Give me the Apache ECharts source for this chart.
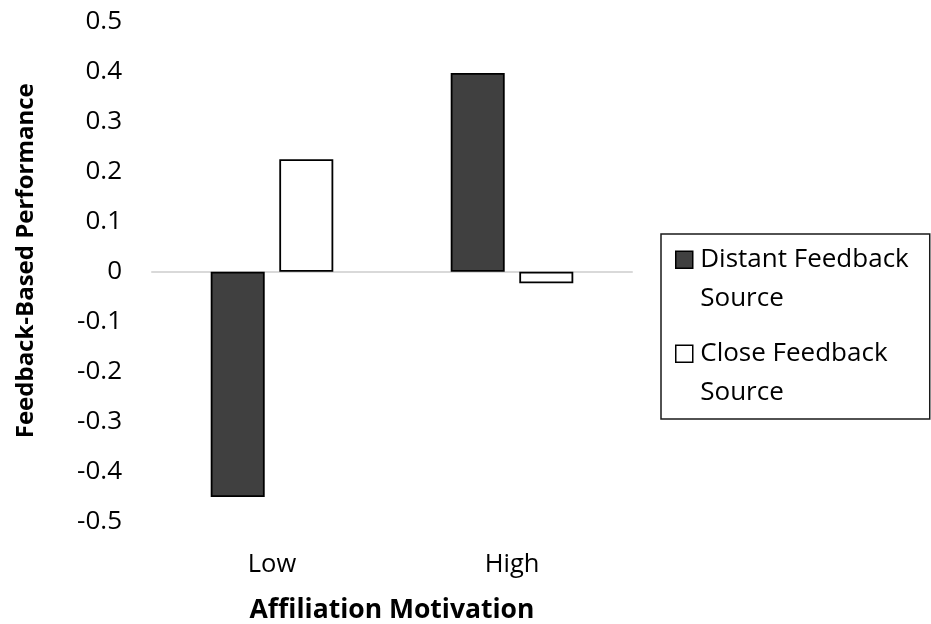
<!DOCTYPE html>
<html>
<head>
<meta charset="utf-8">
<title>Feedback-Based Performance by Affiliation Motivation</title>
<script src="https://cdn.jsdelivr.net/npm/echarts@6/dist/echarts.min.js"></script>
<style>
  html, body { margin: 0; padding: 0; background: #ffffff; }
  #chart { width: 931px; height: 624px; }
</style>
</head>
<body>
<div id="chart"></div>
<script>
// Group means per level of affiliation motivation
const categories = ['Low', 'High'];
const seriesNames = ['Distant Feedback Source', 'Close Feedback Source'];
const distantValues = [-0.45, 0.397];
const closeValues = [0.225, -0.023];
const yTicks = { min: -0.5, max: 0.5, step: 0.1 };

const FONT = '"Open Sans", "Noto Sans", sans-serif';
const INK = '#000000';

// Legend swatch: a 17px square drawn at the top of a taller box so the
// swatch lines up with the first line of the wrapped legend label.
const swatchIcon = 'path://M0,0H17V17H0Z M19.5,56';

const chart = echarts.init(document.getElementById('chart'), null, { renderer: 'canvas' });

chart.setOption({
  animation: false,
  backgroundColor: '#ffffff',
  grid: { left: 152, right: 299, top: 21.5, bottom: 102, outerBoundsMode: 'none', containLabel: false },
  xAxis: [
    {
      type: 'category',
      data: categories,
      position: 'bottom',
      axisLine: { show: false, onZero: false },
      axisTick: { show: false },
      axisLabel: { fontFamily: FONT, fontSize: 25.5, color: INK, margin: 30 },
      name: 'Affiliation Motivation',
      nameLocation: 'middle',
      nameGap: 75,
      nameTextStyle: { fontFamily: FONT, fontWeight: 'bold', fontSize: 26.5, color: INK }
    },
    {
      // zero baseline
      type: 'category',
      data: categories,
      position: 'bottom',
      axisLine: { show: true, onZero: true, lineStyle: { color: '#d9d9d9', width: 2 } },
      axisTick: { show: false },
      axisLabel: { show: false }
    }
  ],
  yAxis: {
    type: 'value',
    min: yTicks.min,
    max: yTicks.max,
    interval: yTicks.step,
    axisLine: { show: false },
    axisTick: { show: false },
    splitLine: { show: false },
    axisLabel: { fontFamily: FONT, fontSize: 26, color: INK, margin: 30 },
    name: 'Feedback-Based Performance',
    nameLocation: 'middle',
    nameGap: 114,
    nameRotate: 90,
    nameTextStyle: { fontFamily: FONT, fontWeight: 'bold', fontSize: 24, color: INK, padding: [0, 0, 0, 22] }
  },
  legend: {
    orient: 'vertical',
    left: 661,
    top: 234,
    padding: [6.75, 21, 7.25, 14],
    itemGap: 17,
    itemWidth: 19.5,
    itemHeight: 56,
    borderColor: '#1a1a1a',
    borderWidth: 1.5,
    selectedMode: false,
    textStyle: { fontFamily: FONT, fontSize: 26, color: INK, lineHeight: 38.5 },
    formatter: name => name.replace(' Source', '\nSource'),
    data: [
      { name: seriesNames[0], icon: swatchIcon, itemStyle: { color: '#404040', borderColor: '#000000', borderWidth: 1.5 } },
      { name: seriesNames[1], icon: swatchIcon, itemStyle: { color: '#ffffff', borderColor: '#000000', borderWidth: 1.5 } }
    ]
  },
  series: [
    {
      name: seriesNames[0],
      type: 'bar',
      data: distantValues,
      barWidth: 54,
      barGap: '27%',
      itemStyle: { color: '#404040', borderColor: '#000000', borderWidth: 1.8 }
    },
    {
      name: seriesNames[1],
      type: 'bar',
      data: closeValues,
      barWidth: 54,
      barGap: '27%',
      itemStyle: { color: '#ffffff', borderColor: '#000000', borderWidth: 1.8 }
    }
  ]
});
</script>
</body>
</html>
